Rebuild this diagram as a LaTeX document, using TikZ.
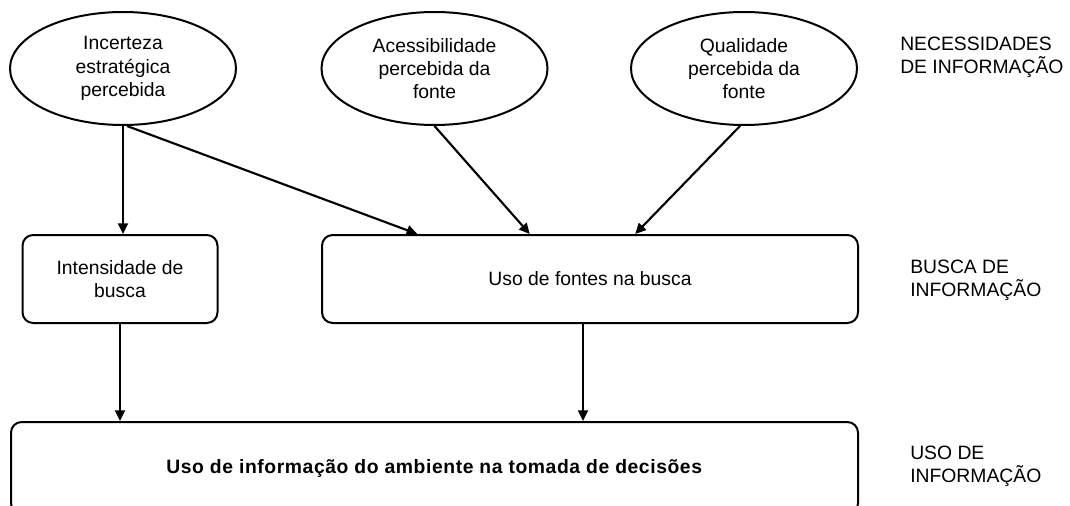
\documentclass[tikz,border=0pt]{standalone}
\usepackage{fontspec}
\setmainfont{Liberation Sans}
\usetikzlibrary{shapes.geometric,arrows.meta,calc}
\tikzset{
  lw/.style={line width=1.5pt},
  oval/.style={ellipse, draw, lw, minimum width=169.5pt, minimum height=84.75pt, inner sep=0pt, align=center, font=\fontsize{14.5pt}{17.5pt}\selectfont},
  rbox/.style={draw, lw, rounded corners=8pt, inner sep=0pt, align=center, font=\fontsize{14.5pt}{17.5pt}\selectfont},
  lvl/.style={anchor=west, align=left, inner sep=0pt, font=\fontsize{14.5pt}{17.5pt}\selectfont},
  conn/.style={line width=1.6pt, -{Triangle[length=8pt,width=7.5pt]}}
}
\begin{document}
\begin{tikzpicture}[x=0.75pt,y=-0.75pt]
\clip (0,0) rectangle (1070,506);
\fill[white] (0,0) rectangle (1070,506);
% ellipses
\node[oval] (e1) at (123,68.5) {Incerteza\\estratégica\\percebida};
\node[oval] (e2) at (434.5,68.5) {Acessibilidade\\percebida da\\fonte};
\node[oval] (e3) at (744,68.5) {Qualidade\\percebida da\\fonte};
% boxes
\node[rbox, minimum width=146.25pt, minimum height=66pt] (b1) at (120,279) {Intensidade de\\busca};
\node[rbox, minimum width=402pt, minimum height=66pt] (b2) at (590,279) {Uso de fontes na busca};
\node[rbox, minimum width=635.25pt, minimum height=69pt] (b3) at (434.5,468) {\addfontfeature{LetterSpace=3}\textbf{Uso de informação do ambiente na tomada de decisões}};
% level labels
\node[lvl] (l1) at (900,57) {NECESSIDADES\\DE INFORMAÇÃO};
\node[lvl] (l2) at (910,280) {BUSCA DE\\INFORMAÇÃO};
\node[lvl] (l3) at (910,466) {USO DE\\INFORMAÇÃO};
% connector end points on b2
\coordinate (t1) at ($(b2.north west)!0.179!(b2.north east)$);
\coordinate (t2) at ($(b2.north west)!0.388!(b2.north east)$);
\coordinate (t3) at ($(b2.north west)!0.584!(b2.north east)$);
\coordinate (s2) at ($(b2.south west)!0.487!(b2.south east)$);
% connectors
\draw[conn] (e1.south) -- (e1.south |- b1.north);
\draw[conn] ($(e1.south)+(4,0)$) -- (t1);
\draw[conn] (e2.south) -- (t2);
\draw[conn] ($(e3.south)+(-4,0)$) -- (t3);
\draw[conn] (b1.south) -- (b1.south |- b3.north);
\draw[conn] (s2) -- (s2 |- b3.north);
\end{tikzpicture}
\end{document}
